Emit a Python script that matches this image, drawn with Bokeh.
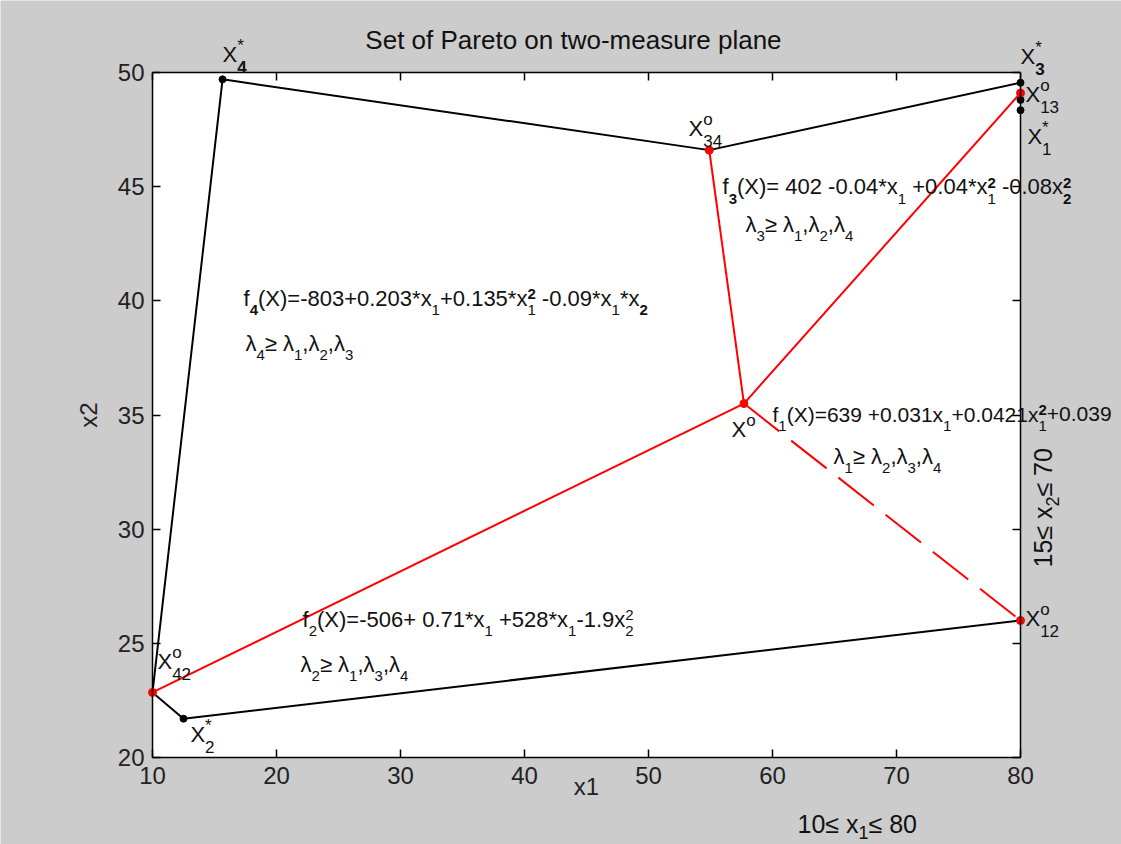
from bokeh.plotting import figure
from bokeh.models import Range1d, Label, LinearAxis, FixedTicker, CustomJSTickFormatter
from bokeh.embed import file_html
from bokeh.resources import INLINE
import math

# ---------------- data ----------------
x_lim = [10, 80]
y_lim = [20, 50]
x_ticks = [10, 20, 30, 40, 50, 60, 70, 80]
y_ticks = [20, 25, 30, 35, 40, 45, 50]

# Pareto set boundary (black polylines)
upper_x = [10.0, 15.65, 54.9, 80.0]
upper_y = [22.85, 49.7, 46.6, 49.55]
lower_x = [10.0, 12.5, 80.0]
lower_y = [22.85, 21.7, 26.0]

# ideal points X_i* (black markers)
star_x = [15.65, 12.5, 80.0, 80.0, 80.0]
star_y = [49.7, 21.7, 49.55, 48.8, 48.35]

# compromise points (red markers): X0, X34, X13, X12, X42
comp_x = [57.7, 54.9, 80.0, 80.0, 10.0]
comp_y = [35.5, 46.6, 49.1, 26.0, 22.85]

# red links from X0 to the pairwise compromise points
solid_link_to = [1, 2, 4]
dashed_link_to = [3]

FONT = "Liberation Sans"
W, H = 1121, 844
# axes box placement on the canvas (pixels)
BOX_L, BOX_R, BOX_T, BOX_B = 152, 1020, 72, 757
sx = (BOX_R - BOX_L) / (x_lim[1] - x_lim[0])
sy = (BOX_B - BOX_T) / (y_lim[1] - y_lim[0])

p = figure(width=W, height=H,
           x_range=Range1d(x_lim[0] - BOX_L / sx, x_lim[1] + (W - BOX_R) / sx),
           y_range=Range1d(y_lim[0] - (H - BOX_B) / sy, y_lim[1] + BOX_T / sy),
           output_backend="svg", toolbar_location=None,
           min_border=0, min_border_left=0, min_border_right=0,
           min_border_top=0, min_border_bottom=0,
           background_fill_color="#cccccc", border_fill_color="#cccccc")
p.grid.visible = False
p.outline_line_color = None

# white axes box
p.quad(left=[x_lim[0]], right=[x_lim[1]], bottom=[y_lim[0]], top=[y_lim[1]],
       fill_color="white", line_color=None)

def style_axis(ax, labels=True):
    ax.axis_line_color = "black"
    ax.axis_line_width = 1.5
    ax.major_tick_in = 8
    ax.major_tick_out = 0
    ax.major_tick_line_color = "black"
    ax.major_tick_line_width = 1.5
    ax.minor_tick_line_color = None
    ax.major_label_text_font = FONT
    ax.major_label_text_font_size = "24px"
    ax.major_label_text_color = "#222222"
    ax.axis_label_text_font = FONT
    ax.axis_label_text_font_size = "24px"
    ax.axis_label_text_font_style = "normal"
    ax.axis_label_text_color = "#222222"
    if not labels:
        ax.formatter = CustomJSTickFormatter(code="return ''")

xa = p.xaxis[0]
ya = p.yaxis[0]
xa.ticker = FixedTicker(ticks=x_ticks)
ya.ticker = FixedTicker(ticks=y_ticks)
style_axis(xa)
style_axis(ya)
xa.fixed_location = y_lim[0]
ya.fixed_location = x_lim[0]
xa.bounds = tuple(x_lim)
ya.bounds = tuple(y_lim)
xa.axis_label = "x1"
ya.axis_label = "x2"
xa.major_label_standoff = 9
ya.major_label_standoff = 8
xa.axis_label_standoff = -14
ya.axis_label_standoff = 13

top_ax = LinearAxis(ticker=FixedTicker(ticks=x_ticks), fixed_location=y_lim[1], bounds=tuple(x_lim))
right_ax = LinearAxis(ticker=FixedTicker(ticks=y_ticks), fixed_location=x_lim[1], bounds=tuple(y_lim))
style_axis(top_ax, labels=False)
style_axis(right_ax, labels=False)
p.add_layout(top_ax, "above")
p.add_layout(right_ax, "right")

# ---------------- lines and markers ----------------
p.line(upper_x, upper_y, line_color="black", line_width=2)
p.line(lower_x, lower_y, line_color="black", line_width=2)
for i in solid_link_to:
    p.line([comp_x[0], comp_x[i]], [comp_y[0], comp_y[i]], line_color="red", line_width=2)
for i in dashed_link_to:
    p.line([comp_x[0], comp_x[i]], [comp_y[0], comp_y[i]], line_color="red", line_width=2,
           line_dash="45 15")
p.scatter(star_x, star_y, size=7, color="black")
p.scatter(comp_x, comp_y, size=8, color="red")

# ---------------- rich text helper ----------------
AW = {'0': .556, '1': .556, '2': .556, '3': .556, '4': .556, '5': .556, '6': .556,
      '7': .556, '8': .556, '9': .556, '.': .278, ',': .278, '+': .584, '-': .333,
      '*': .389, '=': .584, '(': .333, ')': .333, 'X': .667, 'x': .5, 'f': .278,
      ' ': .278, '≥': .549, '≤': .549, 'λ': .5, 'o': .556}
BASE_FIX = 0.4  # em, lifts glyphs onto the intended baseline

def wem(s):
    return sum(AW.get(c, .556) for c in s)

def parse(s):
    segs, buf, i = [], "", 0
    while i < len(s):
        c = s[i]
        if c in "_^":
            if buf:
                segs.append((buf, "n", False))
                buf = ""
            kind = "sub" if c == "_" else "sup"
            i += 1
            if s[i] == "{":
                j = s.index("}", i)
                t = s[i + 1:j]
                i = j + 1
            else:
                t = s[i]
                i += 1
            bold = t.startswith("!")
            if bold:
                t = t[1:]
            segs.append((t, kind, bold))
        else:
            buf += c
            i += 1
    if buf:
        segs.append((buf, "n", False))
    return segs

def rich(x, y, markup, size, ssize, sub_dy, sup_dy, angle=0.0, align="left"):
    segs = parse(markup)
    cx = 0.0
    prev = None
    pieces = []
    for text, kind, bold in segs:
        if kind == "n":
            lead = len(text) - len(text.lstrip(" "))
            body = text.strip(" ")
            if body:
                pieces.append((cx + wem(" " * lead) * size, 0, body, size, bold))
            cx += wem(text) * size
            prev = None
        else:
            start = prev[1] if (prev is not None and prev[0] != kind) else cx
            dy = -sub_dy if kind == "sub" else sup_dy
            pieces.append((start, dy, text, ssize, bold))
            cx = max(cx, start + wem(text) * ssize)
            prev = (kind, start)
    shift = -cx / 2 if align == "center" else 0.0
    for adv, dy, text, fs, bold in pieces:
        adv += shift
        dy += BASE_FIX * fs
        if angle == 0:
            xo, yo = adv, dy
        else:  # rotated 90 deg counter-clockwise
            xo, yo = -dy, adv
        p.add_layout(Label(x=x, y=y, x_offset=xo, y_offset=yo, text=text, angle=angle,
                           text_font=FONT, text_font_size=f"{fs}px",
                           text_font_style="bold" if bold else "normal",
                           text_color="#111111", text_baseline="alphabetic",
                           text_align="left"))

# title
rich(45.0, 50.96, "Set of Pareto on two-measure plane", 26, 18, 0, 0, align="center")

# formula annotations
A, S, SD, SU = 22, 15, 9, 7
rich(17.34, 39.71, "f_{!4}(X)=-803+0.203*x_1+0.135*x_1^{!2} -0.09*x_1*x_{!2}", A, S, SD, SU)
rich(17.50, 37.74, "λ_4≥ λ_1,λ_2,λ_3", A, S, SD, SU)
rich(55.97, 44.61, "f_{!3}(X)= 402 -0.04*x_1 +0.04*x_1^{!2} -0.08x_{!2}^{!2}", A, S, SD, SU)
rich(57.82, 42.95, "λ_3≥ λ_1,λ_2,λ_4", A, S, SD, SU)
rich(60.00, 34.67, "f_1(X)=639 +0.031x_1+0.0421x_1^{!2}+0.039", 21, S, SD, SU)
rich(64.92, 32.79, "λ_1≥ λ_2,λ_3,λ_4", A, S, SD, SU)
rich(22.10, 25.65, "f_2(X)=-506+ 0.71*x_1 +528*x_1-1.9x_2^2", A, S, SD, SU)
rich(21.94, 23.68, "λ_2≥ λ_1,λ_3,λ_4", A, S, SD, SU)

# point labels
P, PS, PD, PU = 22, 17, 10, 11
rich(15.65, 50.40, "X_{!4}^*", P, PS, PD, PU)
rich(80.00, 50.31, "X_{!3}^*", P, PS, PD, PU)
rich(80.40, 48.64, "X_{13}^o", P, PS, PD, PU)
rich(80.56, 46.80, "X_1^*", P, PS, PD, PU)
rich(53.23, 47.15, "X_{34}^o", P, PS, PD, PU)
rich(56.69, 33.97, "X^o", P, PS, PD, PU)
rich(80.40, 25.69, "X_{12}^o", P, PS, PD, PU)
rich(10.40, 23.81, "X_{42}^o", P, PS, PD, PU)
rich(13.06, 20.61, "X_2^*", P, PS, PD, PU)

# variable bounds
rich(62.02, 16.67, "10≤ x_1≤ 80", 25, 18, 6, 8)
rich(82.66, 28.32, "15≤ x_2≤ 70", 25, 18, 6, 8, angle=math.pi / 2)

open("out.html", "w").write(file_html(p, INLINE))
